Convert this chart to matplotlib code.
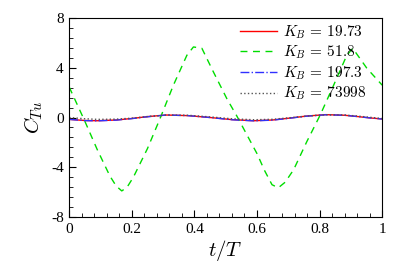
import matplotlib
matplotlib.use('Agg')
import matplotlib.pyplot as plt
from matplotlib.ticker import MultipleLocator

plt.rcParams['font.family'] = ['Liberation Serif', 'DejaVu Serif']
plt.rcParams['mathtext.fontset'] = 'cm'

# K_B = 51.8 (large oscillation)
t_green = [0, 0.05, 0.09, 0.13, 0.15, 0.168, 0.185, 0.205, 0.25, 0.29, 0.333,
           0.376, 0.397, 0.424, 0.46, 0.504, 0.536, 0.6, 0.625, 0.648, 0.668,
           0.69, 0.717, 0.759, 0.802, 0.845, 0.887, 0.906, 0.951, 1.0]
c_green = [2.45, -0.3, -2.6, -4.7, -5.5, -5.9, -5.6, -4.8, -2.5, -0.1, 2.6,
           5.0, 5.67, 5.56, 3.7, 1.5, 0.1, -2.9, -4.3, -5.4, -5.65,
           -5.2, -4.2, -1.95, 0.2, 2.6, 5.0, 5.56, 3.96, 2.6]

# small-amplitude cases
t_small = [0, 0.05, 0.09, 0.15, 0.2, 0.25, 0.31, 0.38, 0.45, 0.52, 0.59,
           0.65, 0.7, 0.76, 0.82, 0.88, 0.92, 0.96, 1.0]
c_red = [-0.15, -0.24, -0.26, -0.2, -0.08, 0.07, 0.2, 0.15, 0.0, -0.17, -0.26,
         -0.2, -0.06, 0.12, 0.23, 0.18, 0.08, -0.03, -0.12]
c_blue = [-0.15, -0.25, -0.27, -0.21, -0.09, 0.06, 0.2, 0.15, 0.0, -0.18, -0.27,
          -0.21, -0.07, 0.11, 0.22, 0.18, 0.08, -0.03, -0.12]
c_dot = [0.0, -0.1, -0.15, -0.13, -0.05, 0.08, 0.2, 0.18, 0.05, -0.1, -0.18,
         -0.14, -0.03, 0.12, 0.22, 0.2, 0.12, 0.02, -0.08]

x_ticks = [0, 0.2, 0.4, 0.6, 0.8, 1]
x_ticklabels = ['0', '0.2', '0.4', '0.6', '0.8', '1']
y_ticks = [-8, -4, 0, 4, 8]
y_ticklabels = ['-8', '-4', '0', '4', '8']
labels = [r'$K_B\,=\,19.73$', r'$K_B\,=\,51.8$', r'$K_B\,=\,197.3$', r'$K_B\,=\,73998$']

fig = plt.figure(figsize=(4.07, 2.72), dpi=100)
ax = fig.add_axes([0.170, 0.202, 0.769, 0.732])

ax.plot(t_small, c_red, color='#ff0000', lw=1.0, label=labels[0])
ax.plot(t_green, c_green, color='#00dd00', lw=1.0, ls=(0, (5, 4)), label=labels[1])
ax.plot(t_small, c_blue, color='#3030ff', lw=1.0, ls='-.', label=labels[2])
ax.plot(t_small, c_dot, color='#555555', lw=1.0, ls=':', label=labels[3])

ax.set_xlim(0, 1)
ax.set_ylim(-8, 8)
ax.set_xticks(x_ticks, x_ticklabels)
ax.set_yticks(y_ticks, y_ticklabels)
ax.xaxis.set_minor_locator(MultipleLocator(0.04))
ax.yaxis.set_minor_locator(MultipleLocator(0.8))
ax.tick_params(which='both', direction='in', labelsize=11, top=False, right=False)
ax.tick_params(which='major', length=5, pad=4)
ax.tick_params(which='minor', length=3)

ax.set_xlabel(r'$t/T$', fontsize=15, labelpad=2)
ax.set_ylabel(r'$C_{Tu}$', fontsize=15, labelpad=4)

ax.legend(loc='upper left', bbox_to_anchor=(0.546, 0.975), frameon=False,
          fontsize=11, handlelength=2.42, handletextpad=0.4,
          labelspacing=0.2, borderaxespad=0.0, borderpad=0.0)

fig.savefig('out.png', dpi=100)
